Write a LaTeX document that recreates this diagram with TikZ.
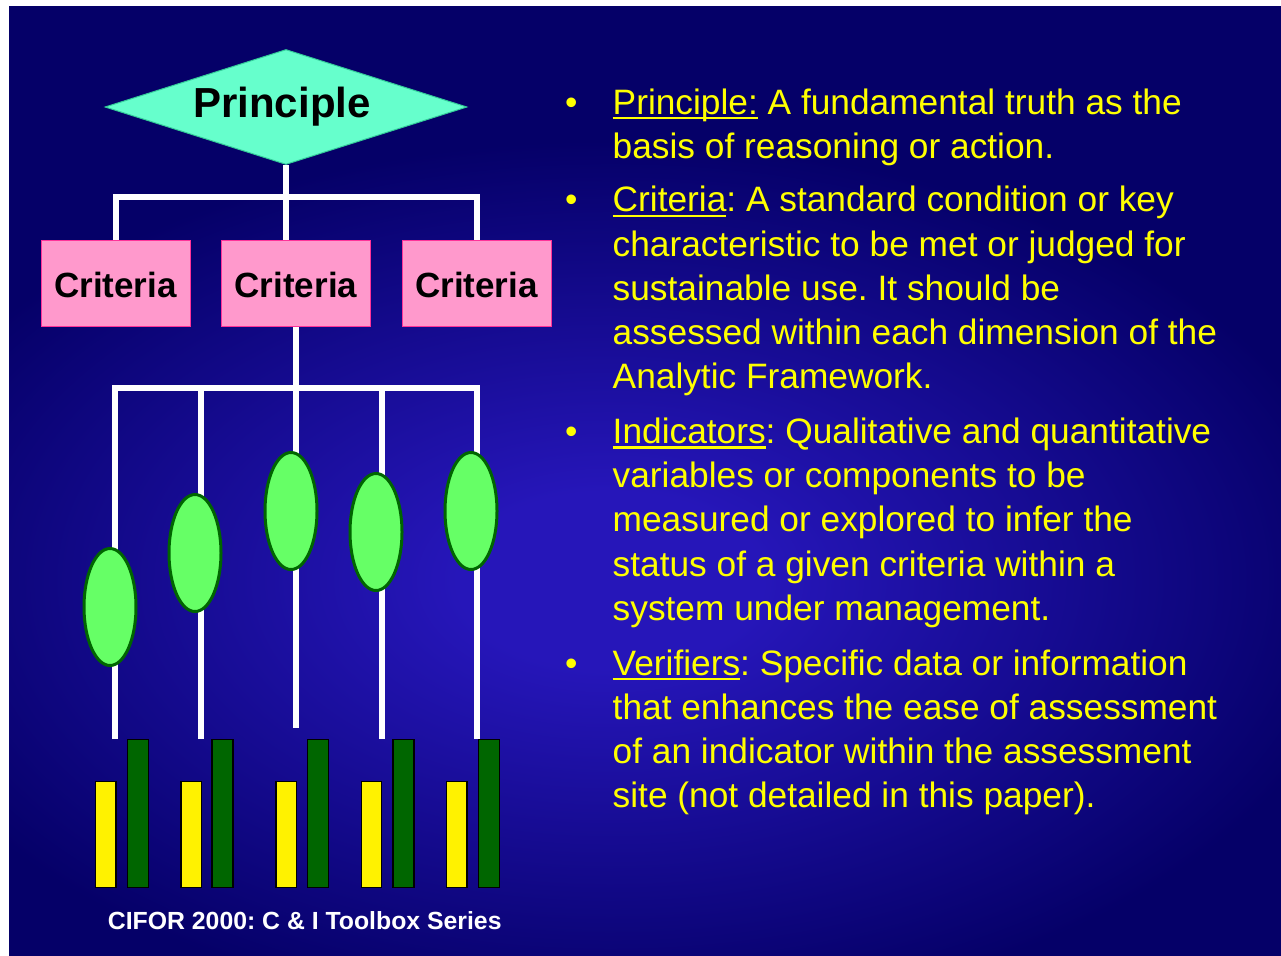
\documentclass[tikz,border=0pt]{standalone}
\usepackage{fontspec}
\setmainfont{Liberation Sans}
\usetikzlibrary{shapes.geometric}
\frenchspacing
\definecolor{bgin}{RGB}{38,22,185}
\definecolor{bgout}{RGB}{5,0,104}
\definecolor{princfill}{HTML}{66FFCC}
\definecolor{princedge}{HTML}{33CC99}
\definecolor{critfill}{HTML}{FF99CC}
\definecolor{critedge}{HTML}{FF3399}
\definecolor{indfill}{HTML}{66FF66}
\definecolor{indedge}{HTML}{006600}
\definecolor{txtyellow}{HTML}{FFFF00}
\pgfdeclareradialshading{bgshade}{\pgfpoint{0bp}{0bp}}{color(0bp)=(bgin); color(5bp)=(bgin); color(25bp)=(bgout); color(50bp)=(bgout)}
\newcommand\myul[1]{\leavevmode\setbox0\hbox{#1}\rlap{\rule[-5.2pt]{\wd0}{2.4pt}}\box0\relax}
\tikzset{
  conn/.style={draw=white, line width=6pt},
  critbox/.style={rectangle, fill=critfill, draw=critedge, line width=1pt, minimum width=149pt, minimum height=86pt, inner sep=0pt},
  indell/.style={ellipse, fill=indfill, draw=indedge, line width=3pt, minimum width=52pt, minimum height=117pt, inner sep=0pt},
  ybar/.style={rectangle, fill=yellow, draw=black, line width=1.2pt, minimum width=20.5pt, minimum height=105.4pt, inner sep=0pt, anchor=south west},
  gbar/.style={rectangle, fill=indedge, draw=black, line width=1.2pt, minimum width=21pt, minimum height=147.8pt, inner sep=0pt, anchor=south west},
  bodytext/.style={text=txtyellow, inner sep=0pt, anchor=base west, font=\fontsize{35.3}{44.3}\selectfont},
}
\begin{document}
\begin{tikzpicture}[x=1pt,y=-1pt]
\useasboundingbox (0,0) rectangle (1281,955);
\fill[white] (0,0) rectangle (1281,955);
\fill[bgout] (9,6) rectangle (1281,955);
\begin{scope}
  \clip (9,6) rectangle (1281,955);
  \shade[shading=bgshade] (-150,140) rectangle (1370,1020);
\end{scope}
% principle
\node[diamond, fill=princfill, draw=princedge, line width=1pt, minimum width=362pt, minimum height=115pt, inner sep=0pt] (p) at (286,107) {};
\node[anchor=base, inner sep=0pt, font=\fontsize{42}{48}\selectfont\bfseries] (ptext) at (282,117.7) {Principle};
% criteria
\node[critbox] (c1) at (115.5,283.5) {};
\node[critbox] (c2) at (296,283.5) {};
\node[critbox] (c3) at (476.5,283.5) {};
\node[anchor=base, inner sep=0pt, font=\fontsize{35}{40}\selectfont\bfseries] (c1t) at (115.5,297) {Criteria};
\node[anchor=base, inner sep=0pt, font=\fontsize{35}{40}\selectfont\bfseries] (c2t) at (296,297) {Criteria};
\node[anchor=base, inner sep=0pt, font=\fontsize{35}{40}\selectfont\bfseries] (c3t) at (476.5,297) {Criteria};
% connectors
\coordinate (j1) at (286,197);
\coordinate (j2) at (296,388);
\coordinate (v1) at (115,739);
\coordinate (v2) at (201,739);
\coordinate (v3) at (296,728);
\coordinate (v4) at (382,739);
\coordinate (v5) at (477,739);
\draw[conn] (p.south) -- (j1);
\draw[conn] (c1.north) |- (j1) -| (c3.north);
\draw[conn] (j1) -- (j1 |- c2.north);
\draw[conn] (c2.south) -- (v3);
\draw[conn] (v1) |- (j2) -| (v5);
\draw[conn] (v2) -- (v2 |- j2);
\draw[conn] (v4) -- (v4 |- j2);
% indicators
\node[indell] (i1) at (110,607) {};
\node[indell] (i2) at (195,553) {};
\node[indell] (i3) at (291,511) {};
\node[indell] (i4) at (376,532) {};
\node[indell] (i5) at (471,511) {};
% verifiers
\node[ybar] (y1) at (94.9,887.7) {};
\node[gbar] (g1) at (126.6,887.7) {};
\node[ybar] (y2) at (180.3,887.7) {};
\node[gbar] (g2) at (211.3,887.7) {};
\node[ybar] (y3) at (275.3,887.7) {};
\node[gbar] (g3) at (306.9,887.7) {};
\node[ybar] (y4) at (360.6,887.7) {};
\node[gbar] (g4) at (392.3,887.7) {};
\node[ybar] (y5) at (445.9,887.7) {};
\node[gbar] (g5) at (477.6,887.7) {};
% footer
\node[anchor=base west, inner sep=0pt, text=white, font=\fontsize{24.8}{28}\selectfont\bfseries] (foot) at (107.7,929) {CIFOR 2000: C \& I Toolbox Series};
% bullets
\node[bodytext] (b1) at (565,114) {\textbullet};
\node[bodytext] (b2) at (565,211.7) {\textbullet};
\node[bodytext] (b3) at (565,443.3) {\textbullet};
\node[bodytext] (b4) at (565,675) {\textbullet};
% body text
\node[bodytext] (t1) at (612.5,114) {\parbox[t]{660pt}{\fontsize{35.3}{44.3}\selectfont \myul{Principle:} A fundamental truth as the\\basis of reasoning or action.}};
\node[bodytext] (t2) at (612.5,211.7) {\parbox[t]{660pt}{\fontsize{35.3}{44.3}\selectfont \myul{Criteria}: A standard condition or key\\characteristic to be met or judged for\\sustainable use. It should be\\assessed within each dimension of the\\Analytic Framework.}};
\node[bodytext] (t3) at (612.5,443.3) {\parbox[t]{660pt}{\fontsize{35.3}{44.3}\selectfont \myul{Indicators}: Qualitative and quantitative\\variables or components to be\\measured or explored to infer the\\status of a given criteria within a\\system under management.}};
\node[bodytext] (t4) at (612.5,675) {\parbox[t]{660pt}{\fontsize{35.3}{44.3}\selectfont \myul{Verifiers}: Specific data or information\\that enhances the ease of assessment\\of an indicator within the assessment\\site (not detailed in this paper).}};
\end{tikzpicture}
\end{document}
